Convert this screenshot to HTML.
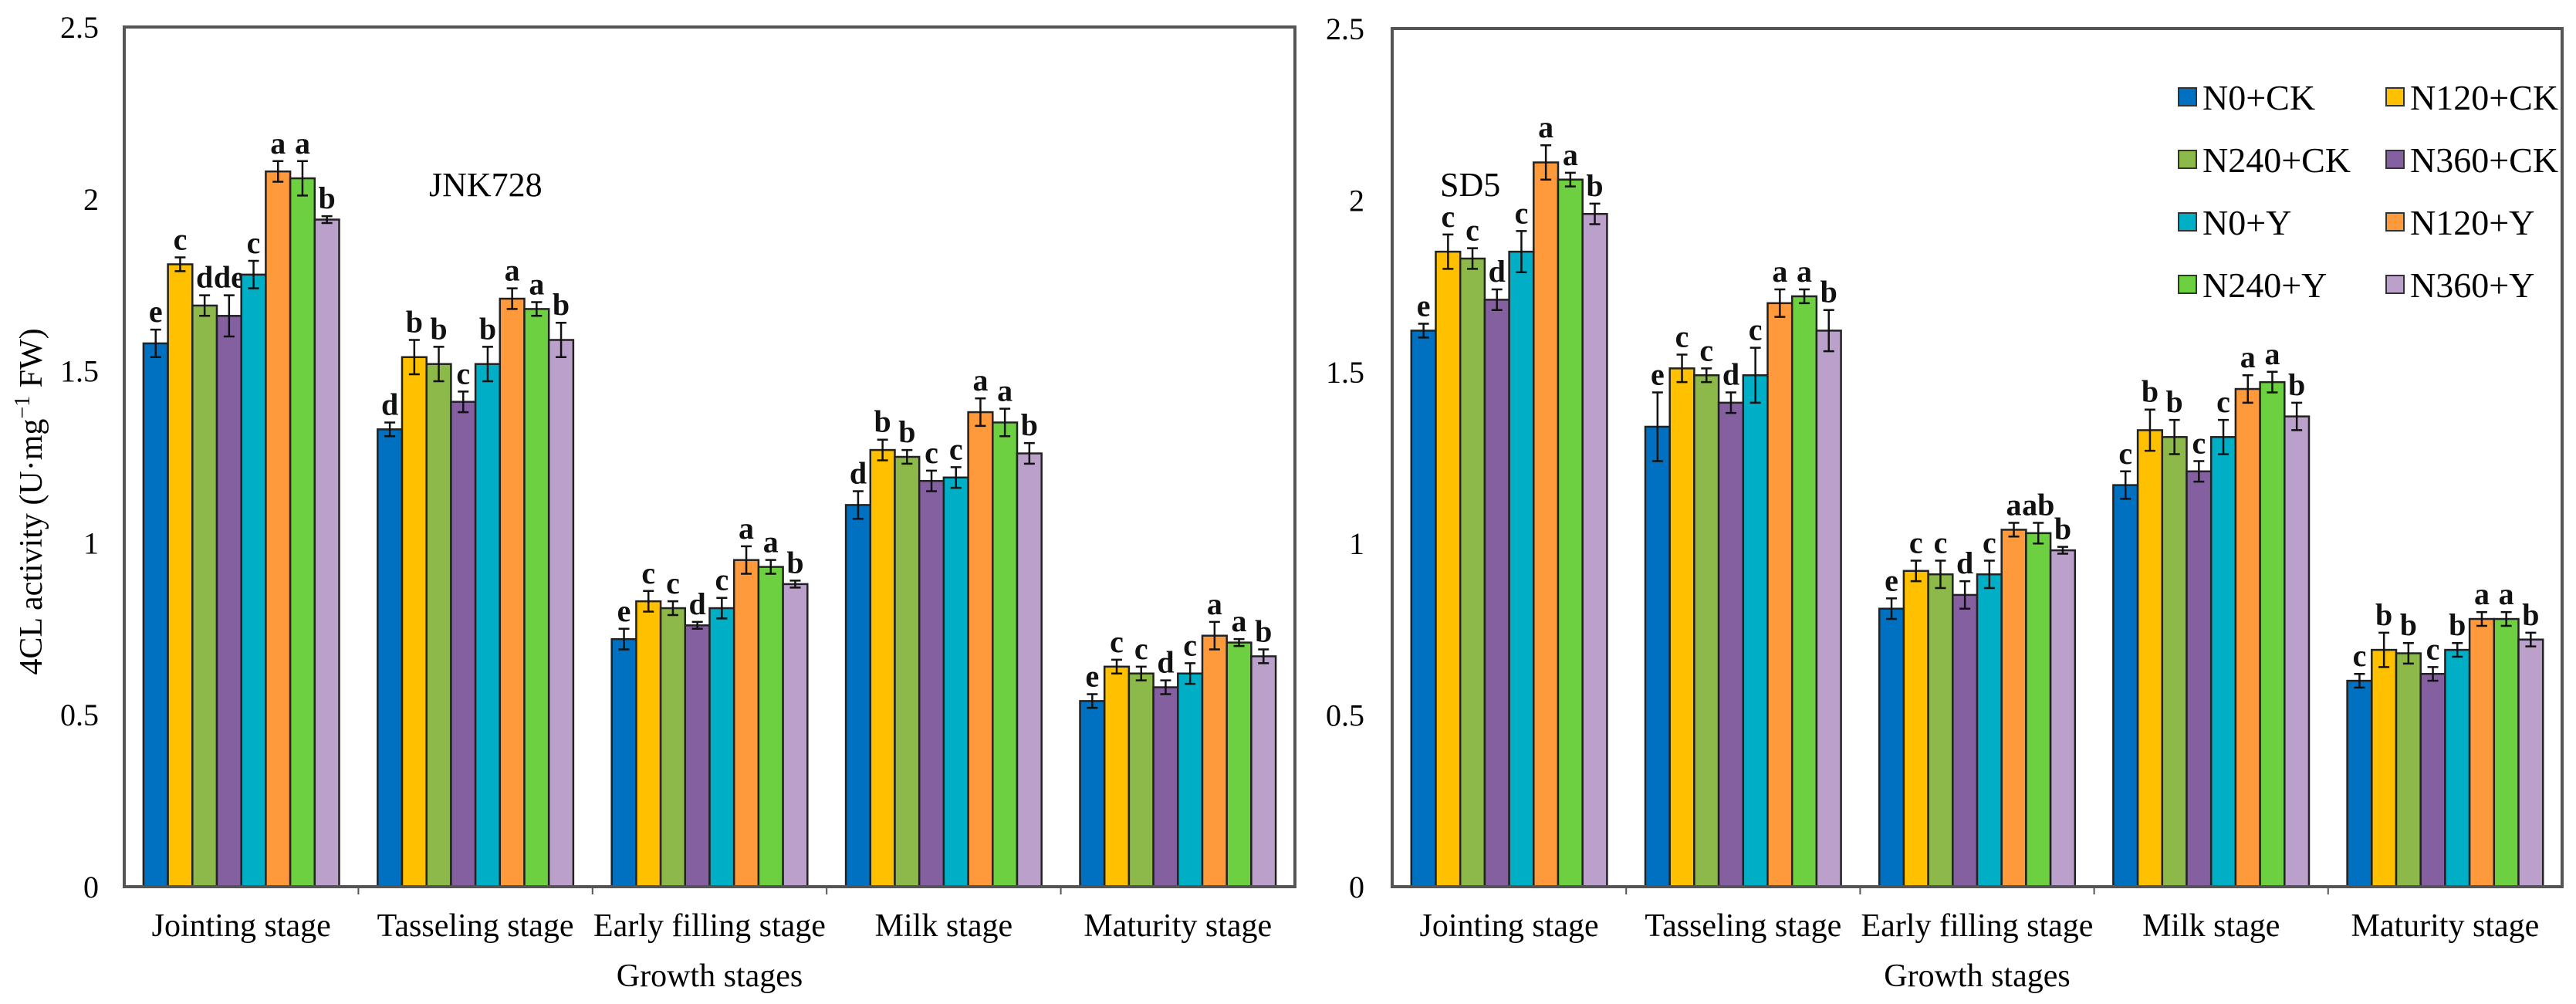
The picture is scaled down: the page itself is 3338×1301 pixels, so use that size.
<!DOCTYPE html>
<html><head><meta charset="utf-8"><style>
html,body{margin:0;padding:0;background:#fff}
svg{display:block}
svg text{font-family:"Liberation Serif","DejaVu Serif",serif}
</style></head><body>
<svg id="chart" width="3338" height="1301" viewBox="0 0 3338 1301" xmlns="http://www.w3.org/2000/svg" font-family="Liberation Serif, DejaVu Serif, serif">
<rect x="0" y="0" width="3338" height="1301" fill="#fff"/>
<g id="legend"></g>
</svg>
<script>
const categories = ["Jointing stage","Tasseling stage","Early filling stage","Milk stage","Maturity stage"];
const seriesNames = ["N0+CK","N120+CK","N240+CK","N360+CK","N0+Y","N120+Y","N240+Y","N360+Y"];
const colors = ["#0070C0","#FFC000","#8DB84A","#8560A0","#00AFC6","#FF9A3C","#6CD040","#BBA0CC"];
const yTicks = [0,0.5,1,1.5,2,2.5];
const yTickLabels = ["0","0.5","1","1.5","2","2.5"];
// JNK728 values [stage][series]
const jnkValues = [
 [1.58,1.81,1.69,1.66,1.78,2.08,2.06,1.94],
 [1.33,1.54,1.52,1.41,1.52,1.71,1.68,1.59],
 [0.72,0.83,0.81,0.76,0.81,0.95,0.93,0.88],
 [1.11,1.27,1.25,1.18,1.19,1.38,1.35,1.26],
 [0.54,0.64,0.62,0.58,0.62,0.73,0.71,0.67]];
const jnkErrors = [
 [0.04,0.02,0.03,0.06,0.04,0.03,0.05,0.01],
 [0.02,0.05,0.05,0.03,0.05,0.03,0.02,0.05],
 [0.03,0.03,0.02,0.01,0.03,0.04,0.02,0.01],
 [0.04,0.03,0.02,0.03,0.03,0.04,0.04,0.03],
 [0.02,0.02,0.02,0.02,0.03,0.04,0.01,0.02]];
const jnkLetters = [
 ["e","c","d","de","c","a","a","b"],
 ["d","b","b","c","b","a","a","b"],
 ["e","c","c","d","c","a","a","b"],
 ["d","b","b","c","c","a","a","b"],
 ["e","c","c","d","c","a","a","b"]];
// SD5 values
const sdValues = [
 [1.62,1.85,1.83,1.71,1.85,2.11,2.06,1.96],
 [1.34,1.51,1.49,1.41,1.49,1.70,1.72,1.62],
 [0.81,0.92,0.91,0.85,0.91,1.04,1.03,0.98],
 [1.17,1.33,1.31,1.21,1.31,1.45,1.47,1.37],
 [0.60,0.69,0.68,0.62,0.69,0.78,0.78,0.72]];
const sdErrors = [
 [0.02,0.05,0.03,0.03,0.06,0.05,0.02,0.03],
 [0.10,0.04,0.02,0.03,0.08,0.04,0.02,0.06],
 [0.03,0.03,0.04,0.04,0.04,0.02,0.03,0.01],
 [0.04,0.06,0.05,0.03,0.05,0.04,0.03,0.04],
 [0.02,0.05,0.03,0.02,0.02,0.02,0.02,0.02]];
const sdLetters = [
 ["e","c","c","d","c","a","a","b"],
 ["e","c","c","d","c","a","a","b"],
 ["e","c","c","d","c","a","ab","b"],
 ["c","b","b","c","c","a","a","b"],
 ["c","b","b","c","b","a","a","b"]];

const NS="http://www.w3.org/2000/svg";
const FONT="Liberation Serif, DejaVu Serif, serif";
const svg=document.getElementById('chart');
function mk(tag,attrs,parent,text){const e=document.createElementNS(NS,tag);for(const k in attrs)e.setAttribute(k,attrs[k]);if(tag==='text')e.setAttribute('font-family',FONT);if(text!==undefined)e.textContent=text;(parent||svg).appendChild(e);return e;}

function drawPanel(p){
  const g=mk('g',{});
  
  
  const top=p.top,bottom=1149,left=p.left,right=p.right,ymax=2.5;
  const y=v=>bottom-v/ymax*(bottom-top);
  const gw=(right-left)/categories.length;
  const bw=31.7, pad=(gw-bw*seriesNames.length)/2;
  const x=(c,s)=>left+c*gw+pad+s*bw;
  yTicks.forEach((t,i)=>{
    const tl=mk('text',{x:p.tickX,y:y(t)+14,'text-anchor':'end','font-size':40,fill:'#000'},g,yTickLabels[i]);
    
    
  });
  categories.forEach((cat,c)=>{
    seriesNames.forEach((sn,s)=>{
      const v=p.values[c][s],e=p.errors[c][s];
      const r=mk('rect',{x:x(c,s),y:y(v),width:bw,height:bottom-y(v),fill:colors[s],stroke:'#222','stroke-width':2.5},g);
      
      
      const cx=x(c,s)+bw/2;
      const eb=mk('path',{d:`M${cx},${y(v+e)}V${y(v-e)}M${cx-7},${y(v+e)}H${cx+7}M${cx-7},${y(v-e)}H${cx+7}`,stroke:'#111','stroke-width':2.5,fill:'none'},g);
      
      
      const lt=mk('text',{x:cx,y:y(v+e)-10,'text-anchor':'middle','font-size':40,'font-weight':'bold',fill:'#111'},g,p.letters[c][s]);
      
      
    });
    const cl=mk('text',{x:left+(c+0.5)*gw,y:1213,'text-anchor':'middle','font-size':42,fill:'#000'},g,cat);
    
    
    if(c>0){mk('line',{x1:left+c*gw,y1:bottom,x2:left+c*gw,y2:bottom+10,stroke:'#555','stroke-width':2},g);}
  });
  const fr=mk('rect',{x:left,y:top,width:right-left,height:bottom-top,fill:'none',stroke:'#555','stroke-width':4},g);
  
  
  const xt=mk('text',{x:(left+right)/2,y:1278,'text-anchor':'middle','font-size':42,fill:'#000'},g,'Growth stages');
  
  
  const tt=mk('text',{x:p.titleX,y:254,'font-size':44,fill:'#000'},g,p.title);
  
  
}
drawPanel({name:'panel-jnk728',title:'JNK728',titleX:556,left:161,right:1678,top:35,tickX:128,values:jnkValues,errors:jnkErrors,letters:jnkLetters});
drawPanel({name:'panel-sd5',title:'SD5',titleX:1866,left:1804,right:3320,top:37,tickX:1768,values:sdValues,errors:sdErrors,letters:sdLetters});

const yt=mk('text',{x:0,y:0,'text-anchor':'middle','font-size':42,fill:'#000',transform:'translate(54,650) rotate(-90)'});


yt.innerHTML='4CL activity (U·mg<tspan dy="-16" font-size="28">−1</tspan><tspan dy="16"> FW)</tspan>';

const leg=document.getElementById('legend');
seriesNames.forEach((sn,i)=>{
  const col=i%2,row=Math.floor(i/2);
  const lx=col?3092:2823, ly=126+row*81;
  const ge=mk('g',{},leg);
  
  
  mk('rect',{x:lx,y:ly-12,width:23,height:23,fill:colors[i],stroke:'#333','stroke-width':2},ge);
  mk('text',{x:lx+31,y:ly+16,'font-size':46,fill:'#000'},ge,sn);
});
</script>
</body></html>
